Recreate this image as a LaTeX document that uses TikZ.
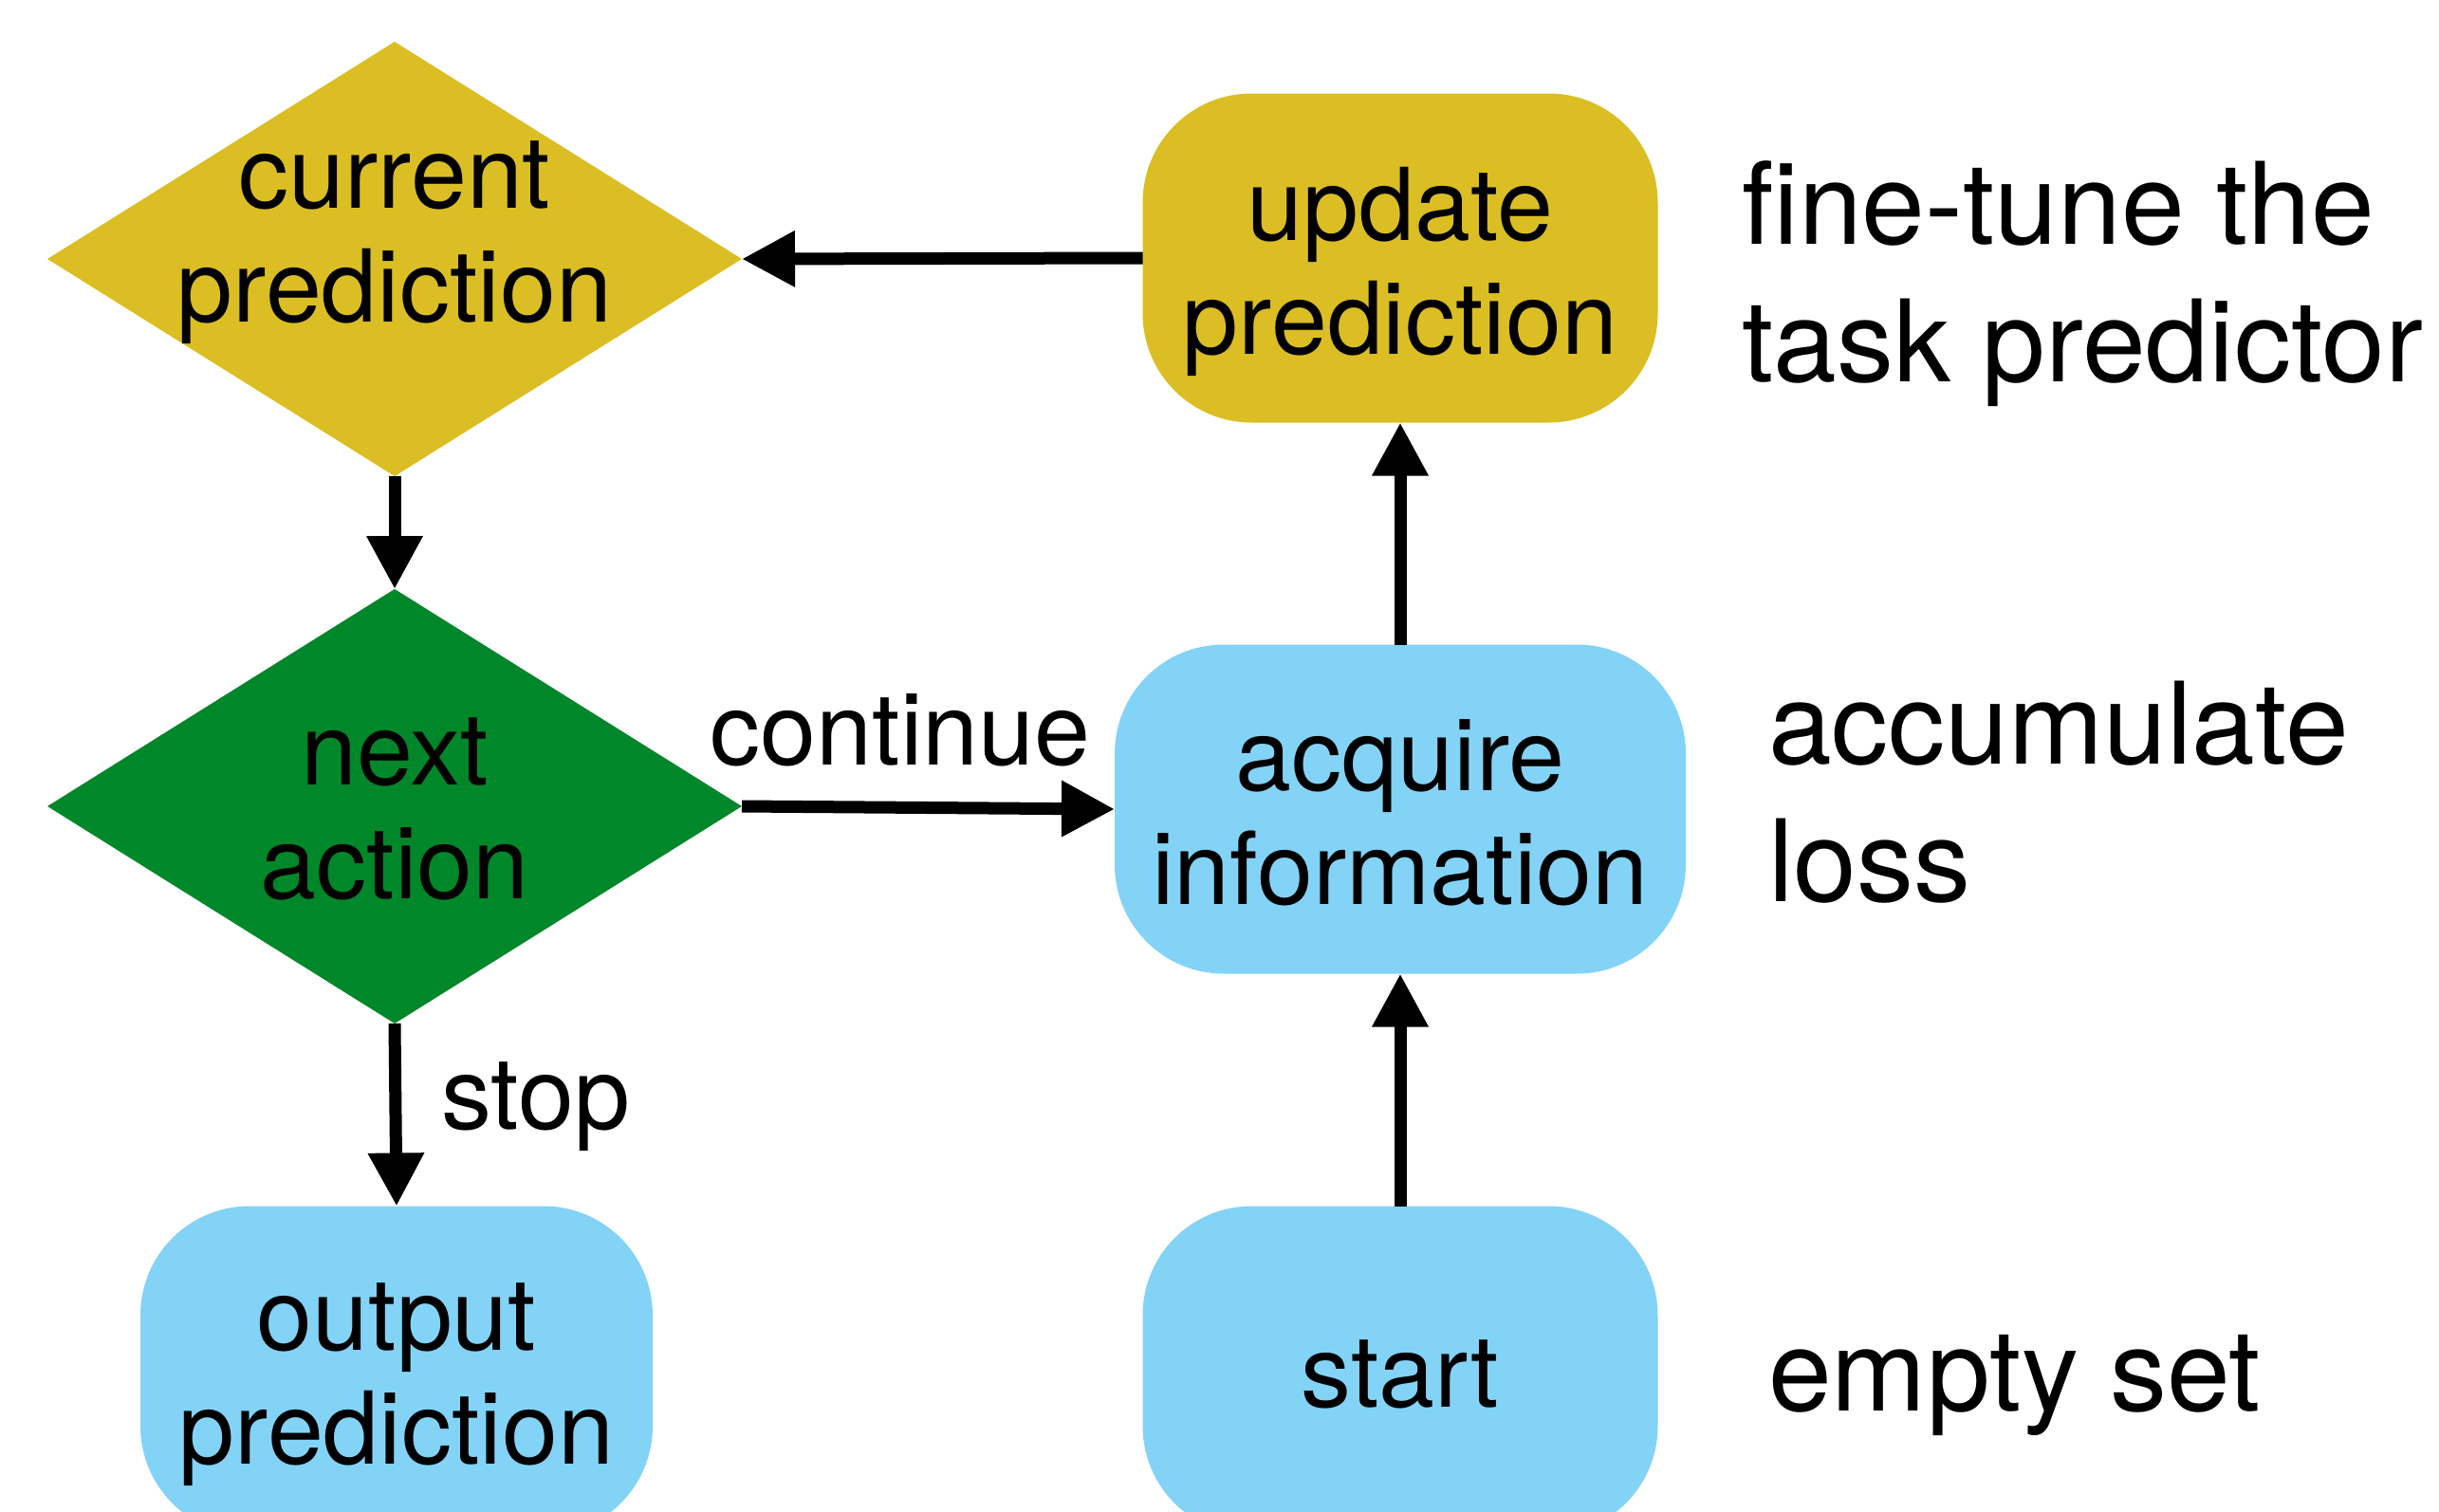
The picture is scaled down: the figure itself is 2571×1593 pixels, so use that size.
\documentclass[tikz,border=0pt]{standalone}
\usepackage{fontspec}
\setmainfont{TeX Gyre Heros}
\usetikzlibrary{shapes.geometric,arrows.meta}
\definecolor{gold}{RGB}{219,190,36}
\definecolor{leaf}{RGB}{0,135,42}
\definecolor{sky}{RGB}{131,211,246}

\begin{document}
\begin{tikzpicture}[x=1pt,y=-1pt,
  dia/.style={diamond, draw=none, inner sep=0pt, outer sep=0pt,
    minimum width=732pt, minimum height=458pt},
  rbox/.style={rectangle, draw=none, rounded corners=115pt, inner sep=0pt,
    outer sep=0pt, minimum height=347pt},
  ntext/.style={font=\fontsize{106}{120}\selectfont, align=center, inner sep=0pt,
    execute at begin node=\strut, execute at end node=\strut},
  side/.style={font=\fontsize{120}{145}\selectfont, align=left, anchor=west,
    inner sep=0pt, execute at begin node=\strut, execute at end node=\strut},
  conn/.style={line width=13pt, -{Triangle[length=56pt,width=56pt]}}
]
\path[use as bounding box, clip] (0,0) rectangle (2571,1593);

% shapes
\node[dia, fill=gold] (cur) at (416,273) {};
\node[dia, fill=leaf] (nxt) at (416,850) {};
\node[rbox, fill=gold, minimum width=543pt] (upd) at (1476,272) {};
\node[rbox, fill=sky, minimum width=602pt] (acq) at (1476,853) {};
\node[rbox, fill=sky, minimum width=540pt] (out) at (418,1445) {};
\node[rbox, fill=sky, minimum width=543pt] (sta) at (1476,1445) {};

% texts inside the shapes
\node[ntext] (curt) at (416,262) {current\\prediction};
\node[ntext] (nxtt) at (416,870) {next\\action};
\node[ntext] (updt) at (1476,293) {update\\prediction};
\node[ntext] (acqt) at (1476,874) {acquire\\information};
\node[ntext] (outt) at (418,1466) {output\\prediction};
\node[ntext] (stat) at (1476,1459) {start};

% notes on the right
\node[side] (n1) at (1836,308) {fine-tune the\\task predictor};
\node[side] (n2) at (1864,856) {accumulate\\loss};
\node[side] (n3) at (1864,1458) {empty set};

% connectors
\draw[conn] (upd.west) -- (cur.east);
\draw[conn] (cur.south) -- (nxt.north);
\draw[conn] (nxt.east) -- (acq.west);
\draw[conn] (nxt.south) -- (out.north);
\draw[conn] (sta.north) -- (acq.south);
\draw[conn] (acq.north) -- (upd.south);

% edge labels
\node[ntext] (lcont) at (949,782) {continue};
\node[ntext, anchor=west] (lstop) at (465,1166) {stop};
\end{tikzpicture}
\end{document}
